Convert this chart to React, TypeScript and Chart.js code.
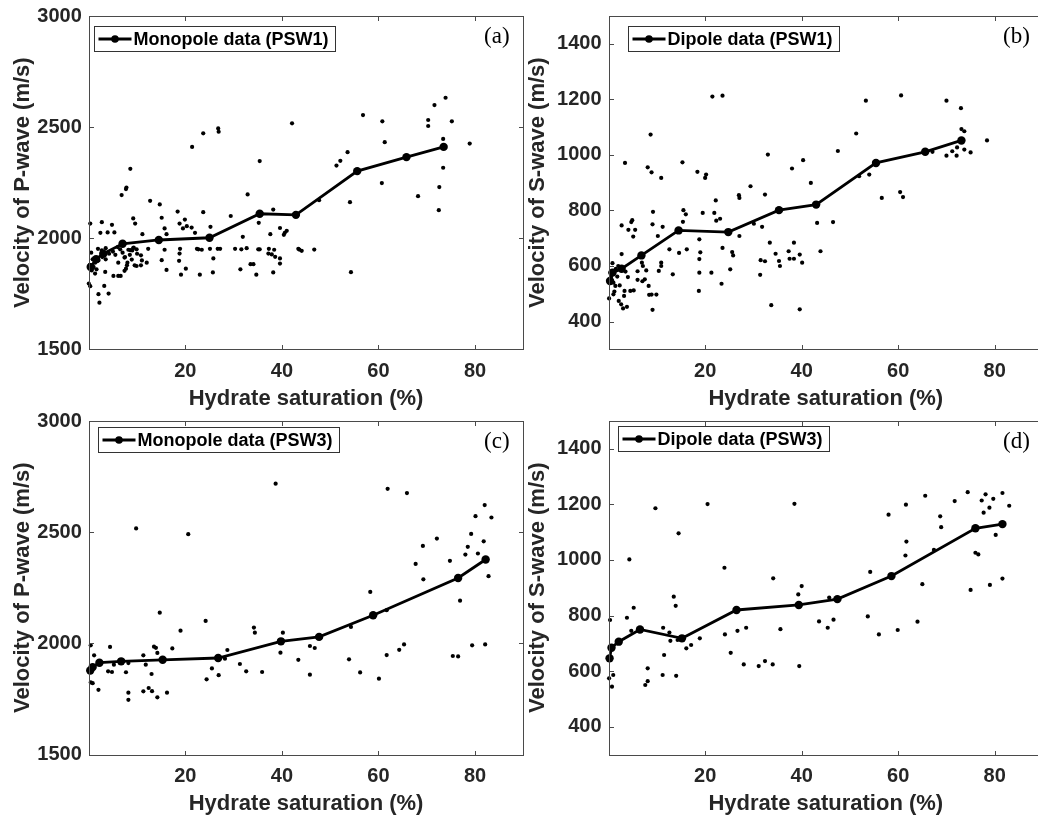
import React, { useEffect, useRef } from 'react';
import { Chart, registerables } from 'chart.js';

Chart.register(...registerables);

// ---------------- data ----------------
const xTickValues = [20, 40, 60, 80];
const pWaveTicks = [1500, 2000, 2500, 3000];
const sWaveTicks = [400, 600, 800, 1000, 1200, 1400];

const xLabel = 'Hydrate saturation (%)';
const pLabel = 'Velocity of P-wave (m/s)';
const sLabel = 'Velocity of S-wave (m/s)';

// (a) PSW1 monopole
const psw1MonoMean: [number, number][] = [
  [0.4, 1870], [1.5, 1905], [3, 1930], [7, 1975], [14.5, 1992], [25, 2002],
  [35.4, 2110], [42.9, 2105], [55.6, 2302], [65.8, 2365], [73.5, 2411],
];
const psw1MonoData: [number, number][] = [
  [42.1, 2517], [21.4, 2411], [23.7, 2472], [26.8, 2494], [26.9, 2479], [8.6, 2312],
  [6.8, 2194], [7.7, 2221], [7.8, 2228], [35.4, 2347], [32.9, 2197], [12.7, 2168],
  [14.7, 2152], [9.2, 2089], [9.6, 2066], [18.4, 2120], [15.1, 2092], [23.7, 2117],
  [29.4, 2100], [38.2, 2129], [0.3, 2066], [2.7, 2072], [4.8, 2060], [2.4, 2024],
  [3.9, 2026], [5.3, 2026], [11.1, 2018], [15.7, 2044], [16.1, 2018], [18.8, 2066],
  [19.9, 2084], [19.5, 2044], [20.3, 2054], [21.3, 2048], [22, 2024], [25.2, 2051],
  [31.9, 2006], [37.6, 2018], [39.6, 2046], [40.4, 2015], [41, 2033], [40.6, 2024],
  [35.2, 2069],
  [1.9, 1952], [2.7, 1945], [3.5, 1955], [6.5, 1950], [8.2, 1948], [9.2, 1956],
  [9.9, 1950], [12.3, 1952], [15.7, 1948], [18.9, 1952], [22.4, 1952], [22.7, 1950],
  [23.4, 1948], [25.1, 1952], [26.7, 1952], [27.2, 1952], [30.3, 1952], [31.6, 1950],
  [32.7, 1955], [35.1, 1950], [35.4, 1950], [37.3, 1952], [38.4, 1948], [43.4, 1952],
  [0.5, 1935], [0.8, 1905], [1.3, 1890], [2, 1900], [2.8, 1915], [3.5, 1905],
  [4.2, 1930], [5, 1940], [5.5, 1925], [6, 1960], [7, 1935], [7.5, 1915],
  [8, 1890], [8.5, 1925], [9, 1945], [10, 1930], [11, 1900], [12, 1890],
  [0.2, 1880], [0.6, 1855], [1, 1870], [1.6, 1860],
  [6.1, 1890], [7.4, 1913], [7.9, 1878], [8.9, 1904], [9.5, 1878], [9.9, 1875],
  [10.8, 1878], [10.8, 1923], [9.3, 1958], [8.6, 1946],
  [15.1, 1901], [16.1, 1857], [19.1, 1836], [20.1, 1863], [18.8, 1931], [18.7, 1898],
  [23, 1836], [25.8, 1909], [25.7, 1846], [31.4, 1860], [33.5, 1883], [34.1, 1883],
  [34.7, 1836], [37.2, 1931], [37.9, 1927], [38.6, 1916], [39.6, 1909], [39.6, 1886],
  [38.2, 1846], [5.1, 1830], [6.1, 1830], [6.6, 1830], [7.4, 1853], [7.7, 1863],
  [3.4, 1848], [1.3, 1841], [0, 1796], [0.3, 1784], [2, 1748], [4.1, 1751],
  [3.2, 1785], [2.2, 1710],
  [73.9, 2632], [71.6, 2599], [56.8, 2554], [60.8, 2526], [70.3, 2532], [70.3, 2505],
  [75.2, 2526], [61.3, 2432], [78.9, 2426], [73.4, 2447], [53.6, 2387], [51.3, 2327],
  [52.1, 2348], [60.7, 2248], [73.4, 2317], [72.6, 2230], [68.2, 2189], [72.5, 2126],
  [54.1, 2162], [47.7, 2171], [43.6, 1949], [44.1, 1943], [46.7, 1949], [54.3, 1847],
];

// (b) PSW1 dipole
const psw1DipMean: [number, number][] = [
  [0.3, 546], [0.8, 576], [2.7, 590], [6.8, 638], [14.5, 728], [24.8, 722],
  [35.3, 801], [43, 821], [55.4, 971], [65.6, 1011], [73.1, 1052],
];
const psw1DipData: [number, number][] = [
  [21.5, 1210], [23.6, 1213], [8.7, 1073], [3.4, 971], [8.1, 955], [8.9, 937],
  [10.9, 917], [15.3, 973], [18.4, 939], [20, 917], [20.2, 929], [33, 1001],
  [38, 951], [40.3, 981], [27, 855], [27.1, 845], [29.4, 887], [32.4, 857],
  [22.2, 836], [4.7, 758], [4.9, 765], [4.1, 730], [5.5, 730], [5.1, 706],
  [2.7, 746], [9.2, 795], [9.1, 750], [11.2, 741], [10.2, 708], [15.5, 801],
  [16, 786], [15.4, 759], [19.5, 791], [21.9, 791], [22.3, 763], [23.1, 770],
  [12.6, 660], [14.6, 647], [16.2, 660], [18.8, 696], [19, 649], [18.8, 625],
  [18.8, 576], [18.7, 510], [21.3, 576], [13.3, 570], [23.4, 536], [23.6, 665],
  [25.6, 650], [25.8, 638], [25.2, 588], [27.1, 708], [30.1, 752], [31.8, 741],
  [33.4, 684], [34.6, 644], [35.3, 618], [35.5, 600], [31.5, 621], [32.4, 617],
  [31.4, 568], [33.7, 459], [37.3, 653], [38.4, 626], [37.5, 626], [38.4, 684],
  [39.6, 641], [40.1, 612], [39.6, 444], [6, 581], [6, 550], [7, 545],
  [7.5, 552], [7.8, 584], [6.9, 612], [7.1, 600], [8.3, 528], [8.4, 496],
  [8.9, 497], [9.9, 497], [9.1, 442], [10.4, 582], [10.9, 600], [10.9, 612],
  [4.5, 510], [5.2, 512], [3.3, 510], [3.2, 492], [2.1, 474], [2.6, 462],
  [3, 447], [3.8, 453], [1.2, 508], [1, 498], [1.4, 528], [0.4, 576],
  [0.1, 483], [1.8, 562], [2.7, 643], [0.5, 560], [1.5, 590], [2, 600],
  [3.5, 580], [4, 560], [1, 540], [2.3, 530], [0.8, 610],
  [53.3, 1195], [60.6, 1214], [70, 1195], [73, 1168], [73.1, 1093], [73.7, 1085],
  [78.4, 1052], [51.3, 1077], [47.5, 1014], [41.9, 899], [51.9, 923], [54, 929],
  [56.6, 845], [60.4, 866], [61, 848], [67.1, 1011], [70, 997], [71.2, 1013],
  [72.1, 997], [72.2, 1027], [73.7, 1019], [75, 1009], [43.2, 755], [46.5, 758],
  [43.9, 653],
];

// (c) PSW3 monopole
const psw3MonoMean: [number, number][] = [
  [0.3, 1878], [0.8, 1893], [2.2, 1913], [6.7, 1919], [15.3, 1926], [26.8, 1934],
  [39.8, 2009], [47.7, 2029], [58.9, 2126], [76.5, 2294], [82.2, 2377],
];
const psw3MonoData: [number, number][] = [
  [38.7, 2718], [9.8, 2517], [20.6, 2491], [14.7, 2138], [24.2, 2101], [19, 2057],
  [34.2, 2071], [34.4, 2048], [40.2, 2048], [0.4, 1991], [1.1, 1946], [4.4, 1984],
  [13.5, 1985], [13.9, 1980], [14.2, 1957], [17.3, 1977], [11.3, 1946], [11.8, 1904],
  [13, 1862], [5.2, 1904], [4, 1874], [4.8, 1871], [7.7, 1870], [8.2, 1911],
  [0.4, 1824], [0.8, 1821], [2, 1791], [8.2, 1778], [8.2, 1746], [11.3, 1784],
  [12.4, 1799], [13.1, 1785], [14.2, 1757], [16.2, 1778], [39.7, 1958], [28.7, 1970],
  [28.2, 1931], [25.5, 1887], [24.4, 1838], [26.9, 1857], [31.3, 1907], [32.6, 1874],
  [35.9, 1871], [43.4, 1926],
  [61.9, 2695], [65.9, 2676], [82, 2622], [80.1, 2572], [83.4, 2566], [79.2, 2492],
  [81.8, 2459], [72.1, 2471], [69.2, 2438], [78.5, 2434], [78, 2399], [80.6, 2404],
  [74.8, 2371], [67.7, 2357], [82.8, 2302], [69.3, 2288], [76.9, 2192], [58.3, 2231],
  [61.7, 2149], [54.3, 2074], [45.8, 1988], [46.8, 1979], [45.8, 1859], [53.9, 1928],
  [56.2, 1869], [60.1, 1841], [61.7, 1947], [64.3, 1971], [65.3, 1995], [75.4, 1943],
  [76.5, 1941], [79.4, 1991], [82.1, 1995],
];

// (d) PSW3 dipole
const psw3DipMean: [number, number][] = [
  [0.2, 646], [0.6, 684], [2.1, 706], [6.5, 750], [15.2, 718], [26.5, 820],
  [39.4, 838], [47.4, 859], [58.6, 942], [76, 1114], [81.6, 1129],
];
const psw3DipData: [number, number][] = [
  [9.7, 1186], [20.5, 1201], [14.5, 1096], [4.3, 1002], [24, 972], [13.5, 868],
  [13.9, 835], [5.2, 828], [3.8, 792], [0.3, 784], [4.7, 745], [11.3, 756],
  [12.6, 739], [12.8, 709], [14.3, 712], [11.5, 658], [16.1, 682], [17.1, 694],
  [18.9, 718], [24.1, 732], [25.3, 666], [26.7, 745], [28.5, 756], [28, 624],
  [31.1, 618], [32.4, 636], [34, 624], [35.6, 751], [34.1, 934], [38.5, 1202],
  [39.3, 876], [40, 906], [39.5, 618], [8.1, 610], [8.1, 564], [7.6, 550],
  [11.2, 586], [14, 583], [0.1, 574], [0.96, 586], [0.7, 544],
  [65.6, 1231], [61.6, 1199], [58, 1163], [74.4, 1244], [78.1, 1236], [79.7, 1220],
  [81.6, 1241], [77.3, 1214], [83, 1195], [71.7, 1212], [77.7, 1170], [78.9, 1188],
  [68.7, 1157], [68.9, 1118], [80.2, 1090], [61.7, 1066], [61.5, 1016], [67.4, 1036],
  [76, 1026], [76.6, 1020], [54.2, 957], [65, 913], [75, 892], [79, 910],
  [81.6, 933], [45.7, 865], [43.6, 779], [45.4, 756], [46.6, 785], [53.7, 797],
  [56, 732], [59.9, 748], [64, 778],
];

// ---------------- layout / style ----------------
const FONT = '"Liberation Sans", Arial, Helvetica, sans-serif';
const AXIS_COLOR = '#262626';

type PanelSpec = {
  left: number; top: number; w: number; h: number;
  yW: number; xH: number; padTop: number; padRight: number;
  yTitlePad: number;
  yMin: number; yMax: number; yTicks: number[]; yTitle: string;
  mean: [number, number][]; data: [number, number][];
  legendText: string; legendDx: number; legendDy: number; tag: string;
};

const panels: PanelSpec[] = [
  {
    left: 0, top: 0, w: 530, h: 412, yW: 88.8, xH: 62.7, padTop: 16, padRight: 6.7, yTitlePad: 12,
    yMin: 1500, yMax: 3000, yTicks: pWaveTicks, yTitle: pLabel,
    mean: psw1MonoMean, data: psw1MonoData,
    legendText: 'Monopole data (PSW1)', legendDx: 5, legendDy: 10, tag: '(a)',
  },
  {
    left: 522, top: 0, w: 526, h: 412, yW: 86.6, xH: 62.7, padTop: 16, padRight: 5, yTitlePad: 5,
    yMin: 300, yMax: 1500, yTicks: sWaveTicks, yTitle: sLabel,
    mean: psw1DipMean, data: psw1DipData,
    legendText: 'Dipole data (PSW1)', legendDx: 19.5, legendDy: 10, tag: '(b)',
  },
  {
    left: 0, top: 405, w: 530, h: 412, yW: 88.8, xH: 62.5, padTop: 16, padRight: 6.7, yTitlePad: 12,
    yMin: 1500, yMax: 3000, yTicks: pWaveTicks, yTitle: pLabel,
    mean: psw3MonoMean, data: psw3MonoData,
    legendText: 'Monopole data (PSW3)', legendDx: 9, legendDy: 6, tag: '(c)',
  },
  {
    left: 522, top: 405, w: 526, h: 412, yW: 86.6, xH: 62.5, padTop: 16, padRight: 5, yTitlePad: 5,
    yMin: 300, yMax: 1500, yTicks: sWaveTicks, yTitle: sLabel,
    mean: psw3DipMean, data: psw3DipData,
    legendText: 'Dipole data (PSW3)', legendDx: 9.5, legendDy: 5, tag: '(d)',
  },
];

const framePlugin = {
  id: 'frame',
  afterDraw(chart: any, _args: any, opts: any) {
    const { ctx, chartArea: a, scales } = chart;
    const xs = scales.x;
    const ys = scales.y;
    ctx.save();
    // box
    const L = Math.round(a.left) + 0.5;
    const T = Math.round(a.top) + 0.5;
    const R = Math.round(a.right) + 0.5;
    const B = Math.round(a.bottom) + 0.5;
    ctx.strokeStyle = '#4a4a4a';
    ctx.lineWidth = 1;
    ctx.strokeRect(L, T, R - L, B - T);
    // inward ticks on all four sides
    const tl = 4.5;
    ctx.beginPath();
    xs.ticks.forEach((t: any) => {
      const px = Math.round(xs.getPixelForValue(t.value)) + 0.5;
      ctx.moveTo(px, B); ctx.lineTo(px, B - tl);
      ctx.moveTo(px, T); ctx.lineTo(px, T + tl);
    });
    ys.ticks.forEach((t: any) => {
      const py = Math.round(ys.getPixelForValue(t.value)) + 0.5;
      ctx.moveTo(L, py); ctx.lineTo(L + tl, py);
      ctx.moveTo(R, py); ctx.lineTo(R - tl, py);
    });
    ctx.stroke();

    // legend
    const lx = Math.round(a.left + opts.legendDx) + 0.5;
    const ly = Math.round(a.top + opts.legendDy) + 0.5;
    ctx.font = `bold 18px ${FONT}`;
    const tw = ctx.measureText(opts.legendText).width;
    const bw = Math.round(39 + tw + 7);
    const bh = 25;
    ctx.fillStyle = '#fff';
    ctx.fillRect(lx, ly, bw, bh);
    ctx.strokeStyle = '#333';
    ctx.lineWidth = 1;
    ctx.strokeRect(lx, ly, bw, bh);
    const cy = ly + bh / 2;
    ctx.strokeStyle = '#000';
    ctx.lineWidth = 2.8;
    ctx.beginPath();
    ctx.moveTo(lx + 4, cy);
    ctx.lineTo(lx + 37, cy);
    ctx.stroke();
    ctx.fillStyle = '#000';
    ctx.beginPath();
    ctx.arc(lx + 20.5, cy, 3.8, 0, Math.PI * 2);
    ctx.fill();
    ctx.textAlign = 'left';
    ctx.textBaseline = 'middle';
    ctx.fillText(opts.legendText, lx + 39, cy + 1);

    // panel tag
    ctx.font = `23px "Liberation Serif", "Times New Roman", serif`;
    ctx.textAlign = 'center';
    ctx.textBaseline = 'middle';
    ctx.fillStyle = '#000';
    ctx.fillText(opts.tag, a.right - 26.5, a.top + 20.5);
    ctx.restore();
  },
};

function Panel({ spec }: { spec: PanelSpec }) {
  const ref = useRef<HTMLCanvasElement>(null);
  useEffect(() => {
    const canvas = ref.current;
    if (!canvas) return;
    const toPts = (arr: [number, number][]) => arr.map(([x, y]) => ({ x, y }));
    const chart = new Chart(canvas, {
      type: 'scatter',
      data: {
        datasets: [
          {
            label: 'mean',
            data: toPts(spec.mean),
            showLine: true,
            borderColor: '#000',
            backgroundColor: '#000',
            borderWidth: 2.8,
            pointRadius: 4.2,
            pointHoverRadius: 4.2,
            pointBorderWidth: 0,
            clip: false,
            order: 0,
          } as any,
          {
            label: spec.legendText,
            data: toPts(spec.data),
            showLine: false,
            backgroundColor: '#000',
            borderColor: '#000',
            pointRadius: 2.1,
            pointHoverRadius: 2.1,
            pointBorderWidth: 0,
            clip: false,
            order: 1,
          } as any,
        ],
      },
      options: {
        responsive: false,
        animation: false,
        events: [],
        layout: { padding: { left: 0, top: spec.padTop, right: spec.padRight, bottom: 0 } },
        plugins: {
          legend: { display: false },
          tooltip: { enabled: false },
          frame: {
            legendText: spec.legendText,
            legendDx: spec.legendDx,
            legendDy: spec.legendDy,
            tag: spec.tag,
          },
        } as any,
        scales: {
          x: {
            type: 'linear',
            min: 0,
            max: 90,
            afterBuildTicks: (s: any) => { s.ticks = xTickValues.map((v) => ({ value: v })); },
            afterFit: (s: any) => {
              s.height = spec.xH;
              s.paddingLeft = 0; s.paddingRight = 0; s.paddingTop = 0; s.paddingBottom = 0;
            },
            grid: { display: false, drawTicks: false },
            border: { display: false },
            ticks: {
              color: AXIS_COLOR,
              font: { family: FONT, size: 20, weight: 'bold' },
              padding: 10,
              maxRotation: 0,
              callback: (v: any) => String(v),
            },
            title: {
              display: true,
              text: xLabel,
              color: AXIS_COLOR,
              font: { family: FONT, size: 22, weight: 'bold', lineHeight: 1 },
              padding: { top: 0, bottom: 2 },
            },
          },
          y: {
            type: 'linear',
            min: spec.yMin,
            max: spec.yMax,
            afterBuildTicks: (s: any) => { s.ticks = spec.yTicks.map((v) => ({ value: v })); },
            afterFit: (s: any) => {
              s.width = spec.yW;
              s.paddingLeft = 0; s.paddingRight = 0; s.paddingTop = 0; s.paddingBottom = 0;
            },
            grid: { display: false, drawTicks: false },
            border: { display: false },
            ticks: {
              color: AXIS_COLOR,
              font: { family: FONT, size: 20, weight: 'bold' },
              padding: 7,
              callback: (v: any) => String(v),
            },
            title: {
              display: true,
              text: spec.yTitle,
              color: AXIS_COLOR,
              font: { family: FONT, size: 22, weight: 'bold', lineHeight: 1 },
              padding: { top: spec.yTitlePad, bottom: 0 },
            },
          },
        },
      } as any,
      plugins: [framePlugin],
    });
    return () => chart.destroy();
  }, [spec]);
  return (
    <canvas
      ref={ref}
      width={spec.w}
      height={spec.h}
      style={{ position: 'absolute', left: spec.left, top: spec.top, width: spec.w, height: spec.h, display: 'block' }}
    />
  );
}

export default function App() {
  return (
    <div
      style={{
        position: 'absolute', left: 0, top: 0, width: 1038, height: 817,
        overflow: 'hidden', background: '#fff',
      }}
    >
      {panels.map((p) => (
        <Panel key={p.tag} spec={p} />
      ))}
    </div>
  );
}
